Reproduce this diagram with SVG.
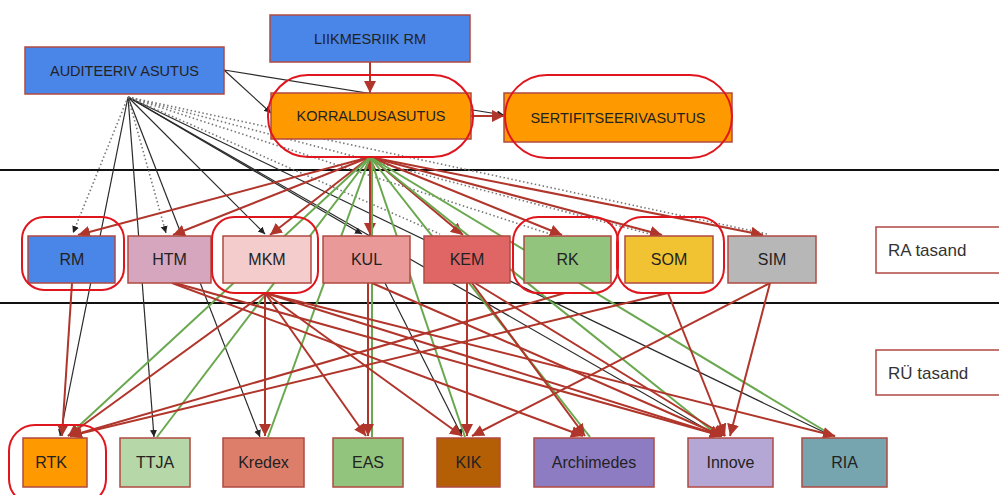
<svg xmlns="http://www.w3.org/2000/svg" width="999" height="495" viewBox="0 0 999 495">
<defs>
<marker id="ar" markerUnits="userSpaceOnUse" markerWidth="14" markerHeight="12" refX="12" refY="6" orient="auto"><path d="M0,0 L12,6 L0,12 z" fill="#b0352b"/></marker>
<marker id="ab" markerUnits="userSpaceOnUse" markerWidth="8" markerHeight="8" refX="7" refY="3.5" orient="auto"><path d="M0,0 L7,3.5 L0,7 z" fill="#222"/></marker>
<marker id="ars" markerUnits="userSpaceOnUse" markerWidth="14" markerHeight="12" refX="0" refY="6" orient="auto"><path d="M12,0 L0,6 L12,12 z" fill="#b0352b"/></marker>
</defs>
<style>
.n rect.b{stroke:#b04a42;stroke-width:1.5}
.o{fill:none;stroke:#e0161e;stroke-width:2}
text{font-family:"Liberation Sans",Arial,sans-serif;fill:#222;text-anchor:middle}
.t1{font-size:14.5px}
.t2{font-size:16px}
.lbl{font-size:17px;text-anchor:start;fill:#333}
.r{stroke:#b0352b;stroke-width:2;fill:none}
.g{stroke:#6aa84f;stroke-width:2;fill:none}
.k{stroke:#2a2a2a;stroke-width:1.2;fill:none}
.d{stroke:#777;stroke-width:1.6;stroke-dasharray:1.5 2.5;fill:none}
.h{stroke:#111;stroke-width:2}
</style>
<rect width="999" height="495" fill="#fff"/>
<g id="levels">
<line class="h" x1="0" y1="170" x2="999" y2="170"/>
<line class="h" x1="0" y1="303" x2="999" y2="303"/>
</g>
<g id="connectors">
<!-- auditing authority black -->
<line class="k" x1="224" y1="70" x2="271" y2="113" marker-end="url(#ab)"/>
<line class="k" x1="224" y1="70" x2="504" y2="115" marker-end="url(#ab)"/>
<line class="k" x1="128" y1="97" x2="60" y2="436" marker-end="url(#ab)"/>
<line class="k" x1="128" y1="97" x2="154" y2="437" marker-end="url(#ab)"/>
<line class="k" x1="128" y1="97" x2="260" y2="437" marker-end="url(#ab)"/>
<line class="k" x1="128" y1="97" x2="265" y2="234" marker-end="url(#ab)"/>
<line class="k" x1="128" y1="97" x2="362" y2="234" marker-end="url(#ab)"/>
<line class="k" x1="128" y1="97" x2="718" y2="436" marker-end="url(#ab)"/>
<line class="k" x1="128" y1="97" x2="832" y2="436" marker-end="url(#ab)"/>
<line class="k" x1="385" y1="283" x2="462" y2="436" marker-end="url(#ab)"/>
<!-- dotted -->
<line class="d" x1="128" y1="97" x2="73" y2="233" marker-end="url(#ab)"/>
<line class="d" x1="128" y1="97" x2="166" y2="233" marker-end="url(#ab)"/>
<line class="d" x1="128" y1="97" x2="440" y2="234"/>
<line class="d" x1="128" y1="97" x2="550" y2="234"/>
<line class="d" x1="128" y1="97" x2="650" y2="234"/>
<line class="d" x1="128" y1="97" x2="767" y2="234"/>
<!-- managing authority red -->
<line class="r" x1="370" y1="62" x2="370" y2="93" marker-end="url(#ar)"/>
<line class="r" x1="471" y1="116" x2="504" y2="116" marker-end="url(#ar)"/>
<line class="r" x1="370" y1="157" x2="78" y2="235" marker-end="url(#ar)"/>
<line class="r" x1="370" y1="157" x2="173" y2="235" marker-end="url(#ar)"/>
<line class="r" x1="370" y1="157" x2="270" y2="235" marker-end="url(#ar)"/>
<line class="r" x1="370" y1="157" x2="370" y2="235" marker-end="url(#ar)" marker-start="url(#ars)"/>
<line class="r" x1="370" y1="157" x2="463" y2="235" marker-end="url(#ar)"/>
<line class="r" x1="370" y1="157" x2="562" y2="235" marker-end="url(#ar)"/>
<line class="r" x1="370" y1="157" x2="662" y2="235" marker-end="url(#ar)"/>
<line class="r" x1="370" y1="157" x2="763" y2="235" marker-end="url(#ar)"/>
<!-- managing authority green -->
<line class="g" x1="370" y1="157" x2="68" y2="436"/>
<line class="g" x1="370" y1="157" x2="157" y2="437"/>
<line class="g" x1="370" y1="157" x2="268" y2="437"/>
<line class="g" x1="372" y1="157" x2="372" y2="437"/>
<line class="g" x1="370" y1="157" x2="465" y2="437"/>
<line class="g" x1="370" y1="157" x2="590" y2="437"/>
<line class="g" x1="370" y1="157" x2="720" y2="437"/>
<line class="g" x1="370" y1="157" x2="835" y2="437"/>
<!-- ministries to agencies -->
<line class="r" x1="72" y1="283" x2="62" y2="436" marker-end="url(#ar)"/>
<line class="r" x1="265" y1="293" x2="68" y2="436" marker-end="url(#ar)"/>
<line class="r" x1="565" y1="293" x2="70" y2="436" marker-end="url(#ar)"/>
<line class="r" x1="668" y1="293" x2="70" y2="436" marker-end="url(#ar)"/>
<line class="r" x1="265" y1="293" x2="265" y2="436" marker-end="url(#ar)"/>
<line class="r" x1="265" y1="293" x2="366" y2="436" marker-end="url(#ar)"/>
<line class="r" x1="368" y1="283" x2="368" y2="436" marker-end="url(#ar)"/>
<line class="r" x1="467" y1="283" x2="467" y2="436" marker-end="url(#ar)"/>
<line class="r" x1="265" y1="293" x2="462" y2="436" marker-end="url(#ar)"/>
<line class="r" x1="770" y1="283" x2="472" y2="436" marker-end="url(#ar)"/>
<line class="r" x1="472" y1="283" x2="585" y2="436" marker-end="url(#ar)"/>
<line class="r" x1="172" y1="283" x2="583" y2="436" marker-end="url(#ar)"/>
<line class="r" x1="175" y1="283" x2="722" y2="436" marker-end="url(#ar)"/>
<line class="r" x1="265" y1="293" x2="722" y2="436" marker-end="url(#ar)"/>
<line class="r" x1="372" y1="283" x2="722" y2="436" marker-end="url(#ar)"/>
<line class="r" x1="475" y1="283" x2="725" y2="436" marker-end="url(#ar)"/>
<line class="r" x1="668" y1="293" x2="725" y2="436" marker-end="url(#ar)"/>
<line class="r" x1="770" y1="283" x2="730" y2="436" marker-end="url(#ar)"/>
<line class="r" x1="265" y1="293" x2="835" y2="436" marker-end="url(#ar)"/>
</g>
<g id="auditeeriv" class="n"><rect class="b" x="25" y="47" width="199" height="47" fill="#4a86e8"/><text class="t1" x="124.5" y="76">AUDITEERIV ASUTUS</text></g>
<g id="liikmesriik" class="n"><rect class="b" x="270" y="15" width="200" height="47" fill="#4a86e8"/><text class="t1" x="370" y="44">LIIKMESRIIK RM</text></g>
<g id="korraldus" class="n"><rect class="b" x="271" y="93" width="200" height="46" fill="#ff9900"/><text class="t1" x="371" y="121">KORRALDUSASUTUS</text><rect class="o" x="268" y="75" width="205" height="82" rx="40"/></g>
<g id="sertif" class="n"><rect class="b" x="504" y="93" width="228" height="49" fill="#ff9900"/><text class="t1" x="618" y="123">SERTIFITSEERIVASUTUS</text><rect class="o" x="505" y="75" width="227" height="83" rx="42"/></g>
<g id="rm" class="n"><rect class="b" x="28" y="236" width="87" height="47" fill="#4a86e8"/><text class="t2" x="72" y="265">RM</text><rect class="o" x="22" y="217" width="102" height="73" rx="22"/></g>
<g id="htm" class="n"><rect class="b" x="128" y="236" width="83" height="47" fill="#d5a6bd"/><text class="t2" x="169.5" y="265">HTM</text></g>
<g id="mkm" class="n"><rect class="b" x="223" y="236" width="88" height="47" fill="#f4cccc"/><text class="t2" x="267" y="265">MKM</text><rect class="o" x="212" y="217" width="106" height="76" rx="22"/></g>
<g id="kul" class="n"><rect class="b" x="323" y="236" width="87" height="47" fill="#ea9999"/><text class="t2" x="366.5" y="265">KUL</text></g>
<g id="kem" class="n"><rect class="b" x="424" y="236" width="86" height="47" fill="#e06666"/><text class="t2" x="467" y="265">KEM</text></g>
<g id="rk" class="n"><rect class="b" x="524" y="236" width="87" height="47" fill="#93c47d"/><text class="t2" x="567.5" y="265">RK</text><rect class="o" x="513" y="217" width="105" height="76" rx="25"/></g>
<g id="som" class="n"><rect class="b" x="625" y="236" width="88" height="47" fill="#f1c232"/><text class="t2" x="669" y="265">SOM</text><rect class="o" x="617" y="217" width="107" height="76" rx="25"/></g>
<g id="sim" class="n"><rect class="b" x="728" y="236" width="88" height="47" fill="#b7b7b7"/><text class="t2" x="772" y="265">SIM</text></g>
<g id="ra" class="n"><rect class="b" x="876" y="227" width="130" height="46" fill="#fff"/><text class="lbl" x="888" y="256">RA tasand</text></g>
<g id="ru" class="n"><rect class="b" x="876" y="350" width="130" height="45" fill="#fff"/><text class="lbl" x="888" y="379">RÜ tasand</text></g>
<g id="rtk" class="n"><rect class="b" x="23" y="438" width="64" height="49" fill="#ff9900"/><text class="t2" x="51" y="468">RTK</text><rect class="o" x="9" y="425" width="97" height="80" rx="26"/></g>
<g id="ttja" class="n"><rect class="b" x="120" y="438" width="70" height="49" fill="#b6d7a8"/><text class="t2" x="155" y="468">TTJA</text></g>
<g id="kredex" class="n"><rect class="b" x="223" y="438" width="81" height="49" fill="#dd7e6b"/><text class="t2" x="263.5" y="468">Kredex</text></g>
<g id="eas" class="n"><rect class="b" x="333" y="438" width="70" height="49" fill="#93c47d"/><text class="t2" x="368" y="468">EAS</text></g>
<g id="kik" class="n"><rect class="b" x="437" y="438" width="63" height="49" fill="#b45f06"/><text class="t2" x="468.5" y="468">KIK</text></g>
<g id="archimedes" class="n"><rect class="b" x="534" y="438" width="120" height="49" fill="#8e7cc3"/><text class="t2" x="594" y="468">Archimedes</text></g>
<g id="innove" class="n"><rect class="b" x="688" y="438" width="85" height="49" fill="#b4a7d6"/><text class="t2" x="730.5" y="468">Innove</text></g>
<g id="ria" class="n"><rect class="b" x="802" y="438" width="85" height="49" fill="#76a5af"/><text class="t2" x="844.5" y="468">RIA</text></g>
</svg>
